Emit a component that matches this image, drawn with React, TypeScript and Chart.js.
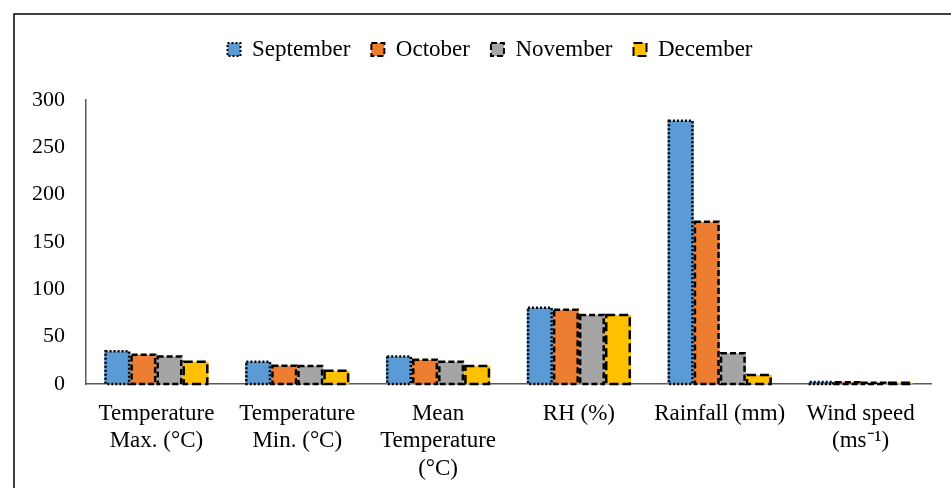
import React, { useEffect, useRef } from "react";
import { Chart, registerables } from "chart.js";

Chart.register(...registerables);

const categories: string[][] = [
  ["Temperature", "Max. (°C)"],
  ["Temperature", "Min. (°C)"],
  ["Mean", "Temperature", "(°C)"],
  ["RH (%)"],
  ["Rainfall (mm)"],
  ["Wind speed", "(ms⁻¹)"],
];
const september = [34.5, 23.5, 29, 80.5, 278, 2.2];
const october = [31, 19.3, 25.5, 78.5, 171.5, 1.8];
const november = [29, 19, 23.5, 73, 32.5, 1.2];
const december = [23.5, 14, 19, 73, 9.5, 1.4];
const yTicks = [0, 50, 100, 150, 200, 250, 300];

const FONT = "'Liberation Serif', 'Times New Roman', serif";

const seriesStyle = [
  { label: "September", data: september, color: "#5B9BD5", dash: [2, 2] },
  { label: "October", data: october, color: "#ED7D31", dash: [6, 3] },
  { label: "November", data: november, color: "#A5A5A5", dash: [6, 3] },
  { label: "December", data: december, color: "#FFC000", dash: [9, 4] },
];

const LEGEND_TOP = 17;
const LEGEND_HEIGHT = 83;
const LEGEND_CENTER = 490;

const frame = {
  id: "frame",
  afterInit(chart: any) {
    const lg = chart.legend;
    if (lg && !lg.__wrapped) {
      const fit = lg.fit;
      lg.fit = function () {
        fit.call(this);
        this.height = LEGEND_HEIGHT;
      };
      lg.__wrapped = true;
    }
  },
  afterLayout(chart: any) {
    const lg = chart.legend;
    if (lg) {
      const half = (lg.right - lg.left) / 2;
      lg.left = LEGEND_CENTER - half;
      lg.right = LEGEND_CENTER + half;
    }
  },
  beforeDraw(chart: any) {
    const ctx = chart.ctx;
    ctx.save();
    ctx.fillStyle = "#fff";
    ctx.fillRect(0, 0, chart.width, chart.height);
    ctx.strokeStyle = "#000";
    ctx.lineWidth = 1.5;
    ctx.beginPath();
    ctx.moveTo(14, chart.height);
    ctx.lineTo(14, 14);
    ctx.lineTo(chart.width, 14);
    ctx.stroke();
    ctx.restore();
  },
};

const dashedBorders = {
  id: "dashedBorders",
  afterDatasetsDraw(chart: any) {
    const ctx = chart.ctx;
    ctx.save();
    chart.data.datasets.forEach((ds: any, i: number) => {
      const meta = chart.getDatasetMeta(i);
      ctx.setLineDash(ds.customDash);
      ctx.strokeStyle = "#000";
      ctx.lineWidth = 2.5;
      meta.data.forEach((bar: any) => {
        const { x, y, base, width } = bar.getProps(["x", "y", "base", "width"], true);
        ctx.strokeRect(x - width / 2 + 1.25, y, width - 2.5, base - y);
      });
    });
    ctx.restore();
  },
};

export default function App() {
  const ref = useRef<HTMLCanvasElement | null>(null);
  useEffect(() => {
    if (!ref.current) return;
    const chart = new Chart(ref.current, {
      type: "bar",
      data: {
        labels: categories,
        datasets: seriesStyle.map((s) => ({
          label: s.label,
          data: s.data,
          backgroundColor: s.color,
          borderWidth: 0,
          barPercentage: 1,
          categoryPercentage: 0.74,
          customDash: s.dash,
        })) as any,
      },
      options: {
        animation: false,
        responsive: false,
        maintainAspectRatio: false,
        layout: { padding: { top: LEGEND_TOP, left: 0, right: 20, bottom: 0 } },
        plugins: {
          tooltip: { enabled: false },
          legend: {
            position: "top",
            labels: {
              font: { family: FONT, size: 23 },
              color: "#000",
              boxWidth: 13,
              boxHeight: 13,
              padding: 21,
              generateLabels: (chart: any) => {
                const items = Chart.defaults.plugins.legend.labels.generateLabels(chart);
                return items.map((it: any, i: number) => ({
                  ...it,
                  strokeStyle: "#000",
                  lineWidth: 2,
                  lineDash: seriesStyle[i].dash,
                }));
              },
            },
          },
        },
        scales: {
          x: {
            grid: { display: false, drawTicks: false },
            border: { display: true, color: "#595959", width: 1.5 },
            ticks: {
              font: { family: FONT, size: 23, lineHeight: 1.2 },
              color: "#000",
              padding: 16,
              maxRotation: 0,
              autoSkip: false,
            },
            afterFit: (scale: any) => {
              scale.height = 104;
            },
          },
          y: {
            min: 0,
            max: 300,
            grid: { display: false, drawTicks: false },
            border: { display: true, color: "#595959", width: 1.5 },
            afterBuildTicks: (scale: any) => {
              scale.ticks = yTicks.map((v) => ({ value: v }));
            },
            ticks: {
              font: { family: FONT, size: 22 },
              color: "#000",
              padding: 21,
            },
            afterFit: (scale: any) => {
              scale.width = 86;
            },
          },
        },
      },
      plugins: [frame, dashedBorders],
    });
    return () => chart.destroy();
  }, []);
  return (
    <div style={{ position: "absolute", left: 0, top: 0, width: 951, height: 488 }}>
      <canvas ref={ref} width={951} height={488} style={{ display: "block" }} />
    </div>
  );
}
